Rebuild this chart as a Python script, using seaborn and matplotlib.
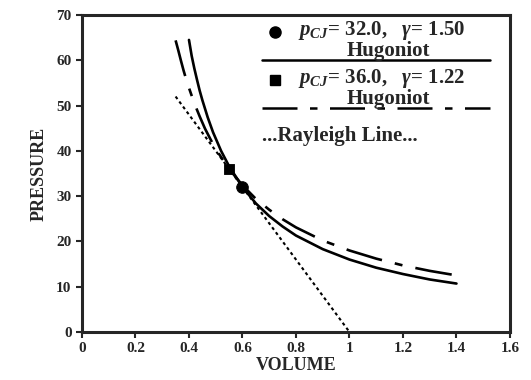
import matplotlib
matplotlib.use("Agg")
import matplotlib.pyplot as plt
import seaborn as sns
import pandas as pd
from matplotlib.lines import Line2D

# ---- data ----
vol_150 = [0.40, 0.41, 0.42, 0.43, 0.44, 0.45, 0.47, 0.49, 0.52, 0.55, 0.60, 0.65, 0.70,
           0.75, 0.80, 0.90, 1.00, 1.10, 1.20, 1.30, 1.40]
p_150 = [64.5, 61.0, 58.2, 55.7, 53.3, 51.2, 47.4, 44.1, 40.0, 36.6, 32.0, 28.4, 25.6,
         23.3, 21.3, 18.3, 16.0, 14.2, 12.8, 11.6, 10.7]

vol_122 = [0.35, 0.36, 0.37, 0.38, 0.39, 0.40, 0.42, 0.44, 0.46, 0.48, 0.50, 0.55, 0.60,
           0.65, 0.70, 0.75, 0.80, 0.90, 1.00, 1.10, 1.20, 1.30, 1.40]
p_122 = [64.4, 62.2, 59.9, 57.7, 55.7, 53.9, 50.5, 47.6, 44.9, 42.6, 40.4, 36.0, 32.4,
         29.4, 27.0, 24.9, 23.1, 20.2, 18.0, 16.2, 14.7, 13.5, 12.5]

vol_ray = [0.35, 1.00]
p_ray = [52.0, 0.0]

cj_vol_150, cj_p_150 = [0.60], [32.0]
cj_vol_122, cj_p_122 = [0.55], [36.0]

x_ticks = [0, 0.2, 0.4, 0.6, 0.8, 1.0, 1.2, 1.4, 1.6]
x_tick_labels = ["0", "0.2", "0.4", "0.6", "0.8", "1", "1.2", "1.4", "1.6"]
y_ticks = [0, 10, 20, 30, 40, 50, 60, 70]

legend_1 = r"$p_{CJ}$= 32.0,   $\gamma$= 1.50"
legend_2 = r"$p_{CJ}$= 36.0,   $\gamma$= 1.22"
hug_label = "Hugoniot"
ray_label = "...Rayleigh Line..."

# ---- figure ----
sns.set_style("ticks")
plt.rcParams["font.family"] = ["Liberation Serif", "DejaVu Serif"]
plt.rcParams["mathtext.fontset"] = "custom"
plt.rcParams["mathtext.rm"] = "Liberation Serif:bold"
plt.rcParams["mathtext.it"] = "Liberation Serif:italic:bold"
plt.rcParams["mathtext.bf"] = "Liberation Serif:bold"

fig = plt.figure(figsize=(5.31, 3.80), dpi=100)
ax = fig.add_axes([0.1544, 0.1263, 0.8060, 0.8342])

df150 = pd.DataFrame({"v": vol_150, "p": p_150})
df122 = pd.DataFrame({"v": vol_122, "p": p_122})
dfr = pd.DataFrame({"v": vol_ray, "p": p_ray})

sns.lineplot(data=df150, x="v", y="p", ax=ax, color="black", lw=1.9)
sns.lineplot(data=df122, x="v", y="p", ax=ax, color="black", lw=1.9)
ax.lines[-1].set_dashes((14, 5, 3, 5))
sns.lineplot(data=dfr, x="v", y="p", ax=ax, color="black", lw=1.5)
ax.lines[-1].set_dashes((1.5, 1.5))

sns.scatterplot(x=cj_vol_150, y=cj_p_150, ax=ax, color="black", marker="o", s=70, edgecolor="black", zorder=5)
sns.scatterplot(x=cj_vol_122, y=cj_p_122, ax=ax, color="black", marker="s", s=60, edgecolor="black", zorder=5)

ax.set_xlim(0, 1.6)
ax.set_ylim(0, 70)
ax.set_xticks(x_ticks)
ax.set_xticklabels(x_tick_labels)
ax.set_yticks(y_ticks)
for lab in ax.get_xticklabels() + ax.get_yticklabels():
    lab.set_fontweight("bold")
    lab.set_fontsize(11)
ax.tick_params(direction="out", length=4, width=1.5)
for sp in ax.spines.values():
    sp.set_visible(True)
    sp.set_linewidth(2.2)

ax.set_xlabel("VOLUME", fontsize=13, fontweight="bold", labelpad=1)
ax.set_ylabel("PRESSURE", fontsize=13, fontweight="bold", labelpad=6)

# ---- hand-built legend (upper right) ----
tr = ax.transAxes
ax.add_line(Line2D([0.451], [0.946], marker="o", ms=8, color="black", transform=tr))
ax.text(0.505, 0.950, legend_1, transform=tr, fontsize=15, fontweight="bold", va="center", ha="left")
ax.text(0.715, 0.885, hug_label, transform=tr, fontsize=15, fontweight="bold", va="center", ha="center")
ax.add_line(Line2D([0.421, 0.953], [0.858, 0.858], color="black", lw=1.8, transform=tr))

ax.add_line(Line2D([0.451], [0.795], marker="s", ms=7, color="black", transform=tr))
ax.text(0.505, 0.800, legend_2, transform=tr, fontsize=15, fontweight="bold", va="center", ha="left")
ax.text(0.715, 0.735, hug_label, transform=tr, fontsize=15, fontweight="bold", va="center", ha="center")
dl = Line2D([0.421, 0.953], [0.707, 0.707], color="black", lw=1.8, transform=tr)
dl.set_dashes((14, 5, 3, 5))
ax.add_line(dl)

ax.text(0.421, 0.618, ray_label, transform=tr, fontsize=15, fontweight="bold", va="center", ha="left")

fig.savefig("out.png", dpi=100)
